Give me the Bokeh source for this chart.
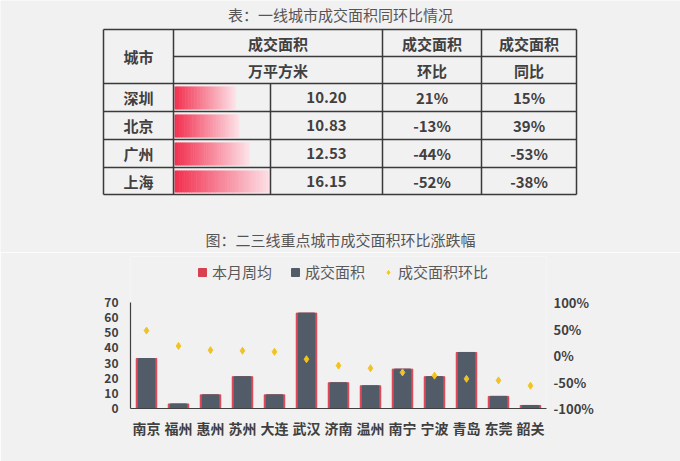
from bokeh.plotting import figure
from bokeh.models import Range1d, LinearAxis, Legend, LegendItem
from bokeh.layouts import column
from bokeh.embed import file_html
from bokeh.resources import INLINE
from bokeh.core.properties import value

FONT = "Noto Sans CJK SC"
BG = "#f2f1f2"
TXT = "#404040"

# ---------------- data ----------------
table_title = "表：一线城市成交面积同环比情况"
t_cities = ["深圳", "北京", "广州", "上海"]
t_area = [10.20, 10.83, 12.53, 16.15]
t_hb = [21, -13, -44, -52]
t_tb = [15, 39, -53, -38]

chart_title = "图：二三线重点城市成交面积环比涨跌幅"
c_cities = ["南京", "福州", "惠州", "苏州", "大连", "武汉", "济南",
            "温州", "南宁", "宁波", "青岛", "东莞", "韶关"]
c_weekly = [33, 3, 9, 21, 9, 63, 17, 15, 26, 21, 37, 8, 2]
c_area = [33, 3, 9, 21, 9, 63, 17, 15, 26, 21, 37, 8, 2]
c_hb = [47, 18, 10, 9, 7, -7, -19, -24, -32, -38, -44, -47, -57]
left_ticks = [0, 10, 20, 30, 40, 50, 60, 70]
right_ticks = [-100, -50, 0, 50, 100]
series_names = ["本月周均", "成交面积", "成交面积环比"]

# ---------------- table figure ----------------
H1 = 252
t = figure(width=680, height=H1, x_range=Range1d(0, 680), y_range=Range1d(H1, 0),
           output_backend="svg", toolbar_location=None,
           x_axis_location=None, y_axis_location=None, min_border=0,
           background_fill_color=BG, border_fill_color=BG, outline_line_color=None)
t.grid.visible = False
t.frame_align = False

# layout of table (pixels)
xe = [103, 173, 270, 382, 481, 576]
ye = [29, 56, 83, 111, 139, 167, 194]

# data bars with gradient (drawn first, under lines)
bar_left = xe[1] + 1
bar_max = xe[2] - bar_left
N = 40
c0 = (242, 48, 80)
c1 = (252, 224, 230)
ql, qr, qt, qb, qc = [], [], [], [], []
amax = max(t_area)
for i, a in enumerate(t_area):
    L = a / amax * bar_max
    top = ye[2 + i] + 3
    bot = ye[3 + i] - 2
    for k in range(N):
        f = k / (N - 1)
        col = tuple(int(round(c0[j] + (c1[j] - c0[j]) * f)) for j in range(3))
        ql.append(bar_left + L * k / N)
        qr.append(bar_left + L * (k + 1) / N + 0.6)
        qt.append(top)
        qb.append(bot)
        qc.append("#%02x%02x%02x" % col)
t.quad(left=ql, right=qr, top=qt, bottom=qb, fill_color=qc, line_color=None)

# grid lines
sx0, sy0, sx1, sy1 = [], [], [], []
for k in [0, 2, 3, 4, 5, 6]:
    sx0.append(xe[0]); sx1.append(xe[5]); sy0.append(ye[k]); sy1.append(ye[k])
sx0.append(xe[1]); sx1.append(xe[5]); sy0.append(ye[1]); sy1.append(ye[1])
for k in [0, 1, 3, 4, 5]:
    sx0.append(xe[k]); sx1.append(xe[k]); sy0.append(ye[0]); sy1.append(ye[6])
sx0.append(xe[2]); sx1.append(xe[2]); sy0.append(ye[2]); sy1.append(ye[6])
t.segment(x0=sx0, y0=sy0, x1=sx1, y1=sy1, line_color="#3a3a3a", line_width=1.5)

# titles
t.text(x=[340], y=[14], text=[table_title], text_font=value(FONT),
       text_font_size="15px", text_color="#555555",
       text_align="center", text_baseline="middle")
t.text(x=[340], y=[239], text=[chart_title], text_font=value(FONT),
       text_font_size="15px", text_color="#555555",
       text_align="center", text_baseline="middle")

# header texts
hx = [(xe[0] + xe[1]) / 2, (xe[1] + xe[3]) / 2, (xe[1] + xe[3]) / 2,
      (xe[3] + xe[4]) / 2, (xe[3] + xe[4]) / 2, (xe[4] + xe[5]) / 2, (xe[4] + xe[5]) / 2]
hy = [(ye[0] + ye[2]) / 2, (ye[0] + ye[1]) / 2, (ye[1] + ye[2]) / 2,
      (ye[0] + ye[1]) / 2, (ye[1] + ye[2]) / 2, (ye[0] + ye[1]) / 2, (ye[1] + ye[2]) / 2]
ht = ["城市", "成交面积", "万平方米", "成交面积", "环比", "成交面积", "同比"]
t.text(x=hx, y=hy, text=ht, text_font=value(FONT), text_font_size="15px",
       text_font_style="bold", text_color=TXT, text_align="center", text_baseline="middle")

# body texts
bx, by, bt = [], [], []
for i in range(len(t_cities)):
    yc = (ye[2 + i] + ye[3 + i]) / 2
    bx += [(xe[0] + xe[1]) / 2, (xe[2] + xe[3]) / 2, (xe[3] + xe[4]) / 2, (xe[4] + xe[5]) / 2]
    by += [yc] * 4
    bt += [t_cities[i], "%.2f" % t_area[i], "%d%%" % t_hb[i], "%d%%" % t_tb[i]]
t.text(x=bx, y=by, text=bt, text_font=value(FONT), text_font_size="15px",
       text_font_style="bold", text_color=TXT, text_align="center", text_baseline="middle")

# ---------------- chart figure ----------------
H2 = 461 - H1
TOP_PAD = 4            # frame top inside chart figure
BOT_PAD = 53           # bottom border
AX_H = 106             # pixel height that the 0..70 axis spans
frame_h = H2 - TOP_PAD - BOT_PAD
y_end = 70 * frame_h / AX_H
pct_end = -100 + 200 * frame_h / AX_H

p = figure(width=680, height=H2, x_range=c_cities, y_range=Range1d(0, y_end),
           output_backend="svg", toolbar_location=None,
           min_border_left=130, min_border_right=134, min_border_top=TOP_PAD,
           min_border_bottom=BOT_PAD,
           background_fill_color=BG, border_fill_color=BG, outline_line_color=None)
p.frame_align = False
p.extra_y_ranges = {"pct": Range1d(-100, pct_end)}
p.grid.visible = False

r1 = p.vbar(x=c_cities, top=c_weekly, width=0.64, color="#d9404f")
r2 = p.vbar(x=c_cities, top=c_area, width=0.5, color="#525c69")
r3 = p.scatter(x=c_cities, y=c_hb, marker="diamond", size=7, color="#f0c322",
               y_range_name="pct")

p.yaxis.ticker = left_ticks
p.yaxis.bounds = (0, 70)
p.yaxis.major_tick_line_color = None
p.yaxis.major_tick_out = 0
p.yaxis.minor_tick_line_color = None
p.yaxis.axis_line_color = "#404040"
p.yaxis.axis_line_width = 1.2
p.yaxis.major_label_standoff = 12
p.yaxis.major_label_text_font = FONT
p.yaxis.major_label_text_font_size = "12px"
p.yaxis.major_label_text_font_style = "bold"
p.yaxis.major_label_text_color = TXT

p.xaxis.major_tick_line_color = None
p.xaxis.major_tick_out = 0
p.xaxis.minor_tick_line_color = None
p.xaxis.axis_line_color = "#404040"
p.xaxis.axis_line_width = 1.2
p.xaxis.major_label_standoff = 9
p.xaxis.major_label_text_font = FONT
p.xaxis.major_label_text_font_size = "14px"
p.xaxis.major_label_text_font_style = "bold"
p.xaxis.major_label_text_color = TXT

ra = LinearAxis(y_range_name="pct", ticker=right_ticks, bounds=(-100, 100),
                major_label_overrides={v: "%d%%" % v for v in right_ticks},
                axis_line_color=None, major_tick_line_color=None, minor_tick_line_color=None,
                major_tick_out=0,
                major_label_standoff=7, major_label_text_font=FONT,
                major_label_text_font_size="13px", major_label_text_font_style="bold",
                major_label_text_color=TXT)
p.add_layout(ra, "right")

legend = Legend(items=[LegendItem(label=series_names[0], renderers=[r1]),
                       LegendItem(label=series_names[1], renderers=[r2]),
                       LegendItem(label=series_names[2], renderers=[r3])],
                orientation="horizontal", location=(67, 126),
                label_text_font=FONT, label_text_font_size="15px", label_text_color="#595959",
                glyph_width=10, glyph_height=10, spacing=18, label_standoff=5,
                label_height=20,
                background_fill_alpha=0, border_line_color=None, margin=0, padding=0)
p.add_layout(legend, "center")

layout = column(t, p, spacing=0)
open("out.html", "w").write(file_html(layout, INLINE))
